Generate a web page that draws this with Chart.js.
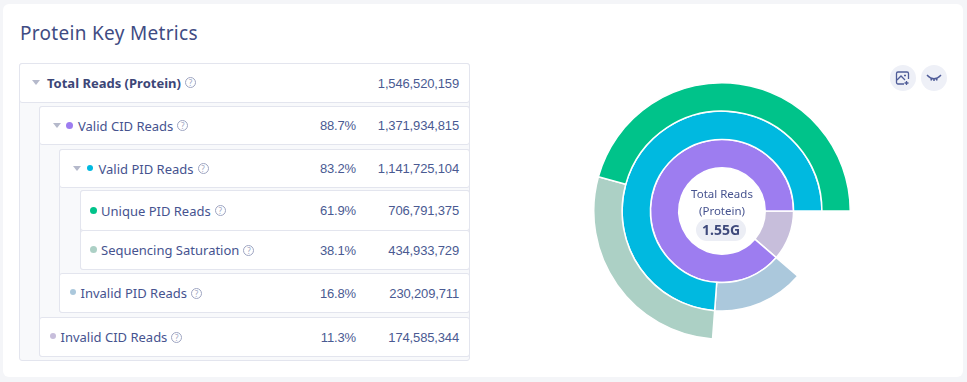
<!DOCTYPE html>
<html>
<head>
<meta charset="utf-8">
<title>Protein Key Metrics</title>
<script src="https://cdn.jsdelivr.net/npm/chart.js@4"></script>
<style>
    html, body { margin: 0; padding: 0; width: 967px; height: 382px; overflow: hidden; background: #f4f5f8; }
    body { font-family: "Noto Sans", sans-serif; color: #44508a; position: relative; }
    .card { position: absolute; left: 3px; top: 4px; width: 960px; height: 373px; background: #fff; border-radius: 6px; }
    h1 { position: absolute; left: 20px; top: 19px; margin: 0; font-size: 19px; line-height: 28px; font-weight: 400; color: #3f4c83; letter-spacing: .3px; }

    .frame { position: absolute; box-sizing: border-box; border: 1px solid #e3e5ee; border-radius: 3px; background: #f8f9fb; }
    #frame0 { left: 19px; top: 63px; width: 451px; height: 298px; }
    #frame1 { left: 39px; top: 106px; width: 431px; height: 251px; }
    #frame2 { left: 59px; top: 149px; width: 411px; height: 164px; }
    #frame3 { left: 80px; top: 190px; width: 390px; height: 80px; }

    .row { position: absolute; box-sizing: border-box; background: #fff; border: 1px solid #e3e5ee; border-radius: 3px; font-size: 13px; }
    .r0 { left: 19px; top: 63px; width: 451px; height: 40px; }
    .r1 { left: 39px; top: 106px; width: 431px; height: 39px; }
    .r2 { left: 59px; top: 149px; width: 411px; height: 39px; }
    .r3 { left: 80px; top: 190px; width: 390px; height: 41px; }
    .r4 { left: 80px; top: 230px; width: 390px; height: 40px; }
    .r5 { left: 59px; top: 273px; width: 411px; height: 40px; }
    .r6 { left: 39px; top: 317px; width: 431px; height: 40px; }

    .name { position: absolute; top: 50%; transform: translateY(-50%); white-space: nowrap; display: flex; align-items: center; color: #46538f; }
    .r0 .name { left: 27px; margin-top: -.5px; font-weight: 700; color: #3c4677; }
    .r1 .name { left: 38px; }
    .r2 .name { left: 38.5px; }
    .r3 .name, .r4 .name { left: 20px; }
    .r5 .name, .r6 .name { left: 20.5px; }
    .help { display: inline-block; box-sizing: border-box; width: 11px; height: 11px; margin-left: 4px; border: 1px solid #9ea5c2; border-radius: 50%; color: #9ea5c2; font-size: 8px; line-height: 9px; text-align: center; font-weight: 400; }
    .dot { position: absolute; top: 50%; width: 7px; height: 7px; margin-top: -4px; border-radius: 50%; }
    .r1 .dot { left: 26px; }
    .r2 .dot { left: 27px; width: 6px; height: 6px; }
    .r3 .dot, .r4 .dot { left: 9px; }
    .r5 .dot, .r6 .dot { left: 9.5px; width: 6px; height: 6px; }
    .tri { position: absolute; top: 50%; margin-top: -3px; width: 0; height: 0; border-left: 4px solid transparent; border-right: 4px solid transparent; border-top: 5px solid #b5b9cb; }
    .r0 .tri { left: 12px; }
    .r1 .tri { left: 13px; }
    .r2 .tri { left: 13px; }
    .pct, .val { position: absolute; top: 50%; margin-top: -.5px; transform: translateY(-50%); font-family: "Liberation Sans", sans-serif; font-size: 13px; letter-spacing: -.15px; color: #4a5a92; white-space: nowrap; }
    .pct { right: 113px; }
    .val { right: 10px; }

    #sunburst { position: absolute; left: 592px; top: 81px; }
    .center-label { position: absolute; left: 672px; top: 185px; width: 100px; text-align: center; font-size: 11.500px; line-height: 17px; color: #46538f; }
    .center-value { position: absolute; left: 696px; top: 219px; width: 50px; height: 22px; border-radius: 11px; background: #eceef5; text-align: center; font-size: 14px; line-height: 22px; font-weight: 700; color: #3f4a7c; }
    .tool { position: absolute; top: 65px; width: 26px; height: 26px; border-radius: 50%; background: #eef0f7; }
    .tool svg { position: absolute; left: 5px; top: 5px; }
</style>
</head>
<body>
<div class="card"></div>
<h1>Protein Key Metrics</h1>
<div class="frame" id="frame0"></div>
<div class="frame" id="frame1"></div>
<div class="frame" id="frame2"></div>
<div class="frame" id="frame3"></div>
<div id="rows"></div>
<canvas id="sunburst" width="260" height="260"></canvas>
<div class="center-label">Total Reads<br>(Protein)</div>
<div class="center-value" id="centerValue"></div>
<div class="tool" style="left:890px">
    <svg width="16" height="16" viewBox="0 0 16 16" fill="none" stroke="#4f5c98" stroke-width="1.3">
        <path d="M9 14H3a1.5 1.5 0 0 1-1.5-1.5v-9A1.5 1.5 0 0 1 3 2h9a1.5 1.500 0 0 1 1.500 1.500V9"/>
        <path d="M2 10l4-4 4 4M9 5.500h2M11.500 11v4M9.500 13h4"/>
    </svg>
</div>
<div class="tool" style="left:921px">
    <svg width="16" height="16" viewBox="0 0 16 16" fill="none" stroke="#4f5c98" stroke-width="1.5">
        <path d="M2 6c3 3.500 9 3.500 12 0M1 5l2 2M15 5l-2 2M5.500 8.500L5 10.500M10.500 8.500l.5 2M8 9v2"/>
    </svg>
</div>

<script>
const rowLabels = ['Total Reads (Protein)', 'Valid CID Reads', 'Valid PID Reads', 'Unique PID Reads', 'Sequencing Saturation', 'Invalid PID Reads', 'Invalid CID Reads'];
const rowPercents = ['', '88.7%', '83.2%', '61.9%', '38.1%', '16.8%', '11.3%'];
const rowValues = [1546520159, 1371934815, 1141725104, 706791375, 434933729, 230209711, 174585344];
const rowColors = [null, '#9d7df0', '#00b9e0', '#00c38a', '#acd0c5', '#abc8dc', '#c7bedb'];
const rowHasToggle = [true, true, true, false, false, false, false];
const centerValue = '1.55G';

// rings go clockwise from 3 o'clock, so the empty part of each ring comes first
const outerRing = [174585344, 230209711, 434933729, 706791375];
const middleRing = [174585344, 230209711, 1141725104];
const innerRing = [174585344, 1371934815];
const outerColors = ['transparent', 'transparent', '#acd0c5', '#00c38a'];
const middleColors = ['transparent', '#abc8dc', '#00b9e0'];
const innerColors = ['#c7bedb', '#9d7df0'];
const sliceLabels = ['Invalid CID Reads', 'Invalid PID Reads', 'Sequencing Saturation', 'Unique PID Reads'];

function buildRows() {
    const container = document.getElementById('rows');
    rowLabels.forEach((label, index) => {
        const row = document.createElement('div');
        row.className = 'row r' + index;

        if (rowHasToggle[index]) {
            const tri = document.createElement('span');
            tri.className = 'tri';
            row.appendChild(tri);
        }
        if (rowColors[index]) {
            const dot = document.createElement('span');
            dot.className = 'dot';
            dot.style.background = rowColors[index];
            row.appendChild(dot);
        }

        const name = document.createElement('span');
        name.className = 'name';
        name.innerHTML = `${label}<span class="help">?</span>`;
        row.appendChild(name);

        const pct = document.createElement('span');
        pct.className = 'pct';
        pct.textContent = rowPercents[index];
        row.appendChild(pct);

        const val = document.createElement('span');
        val.className = 'val';
        val.textContent = rowValues[index].toLocaleString('en-US');
        row.appendChild(val);

        container.appendChild(row);
    });
    document.getElementById('centerValue').textContent = centerValue;
}

function ringBorders(colors) {
    return colors.map(c => c === 'transparent' ? 'transparent' : '#ffffff');
}

function createChart() {
    const ctx = document.getElementById('sunburst').getContext('2d');
    new Chart(ctx, {
        type: 'doughnut',
        data: {
            labels: sliceLabels,
            datasets: [
                { data: outerRing, backgroundColor: outerColors, borderColor: ringBorders(outerColors), borderWidth: 1.5 },
                { data: middleRing, backgroundColor: middleColors, borderColor: ringBorders(middleColors), borderWidth: 1.5 },
                { data: innerRing, backgroundColor: innerColors, borderColor: ringBorders(innerColors), borderWidth: 1.5 }
            ]
        },
        options: {
            responsive: false,
            animation: false,
            rotation: 90,
            cutout: '33.7%',
            layout: { padding: 1 },
            plugins: {
                legend: { display: false },
                tooltip: { enabled: false }
            }
        }
    });
}

buildRows();
createChart();
</script>
</body>
</html>
